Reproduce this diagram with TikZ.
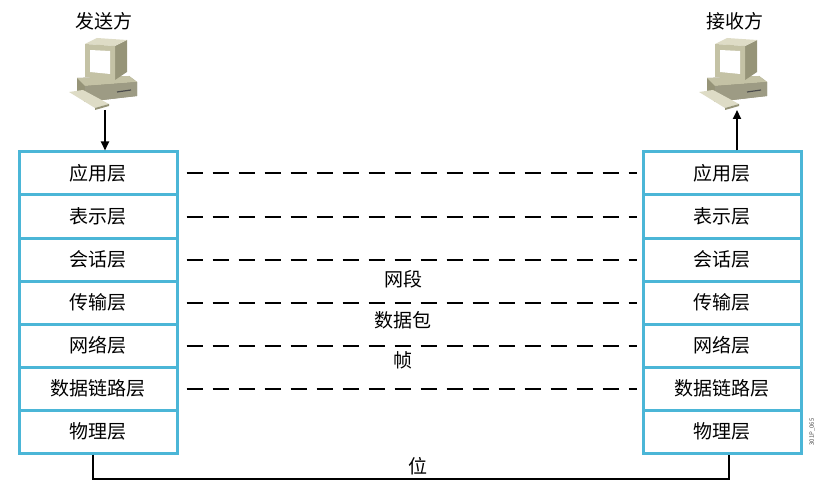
\documentclass[tikz,border=0pt]{standalone}
\usepackage{fontspec}
\setmainfont{Noto Sans CJK SC}
\usetikzlibrary{arrows.meta}
\begin{document}
\begin{tikzpicture}[x=1pt,y=-1pt,
  layer/.style={draw=bordc, line width=3pt, minimum width=158pt, minimum height=43pt, inner sep=0pt, font=\fontsize{19}{22}\selectfont, anchor=center},
  lbl/.style={font=\fontsize{19}{22}\selectfont, inner sep=1pt},
  dashline/.style={dash pattern=on 16pt off 10pt, line width=2pt},
  conn/.style={line width=2pt}]
\useasboundingbox (0,0) rectangle (824,497);
\definecolor{bordc}{RGB}{75,182,215}
\definecolor{pcA}{RGB}{196,194,165}
\definecolor{pcB}{RGB}{150,148,120}
\definecolor{pcC}{RGB}{222,220,198}
\newcommand{\pcicon}[1]{%
 \begin{scope}[shift={#1}]
  \fill[pcB] (-28,6) -- (24,4) -- (32,10) -- (32,24) -- (-20,30) -- (-28,22) -- cycle;
  \fill[pcA] (-28,6) -- (24,4) -- (32,10) -- (-20,14) -- cycle;
  \fill[pcA!80!black] (-20,14) -- (32,10) -- (32,24) -- (-20,30) -- cycle;
  \draw[black!70, line width=1.2pt] (12,20) -- (26,18);
  \fill[pcC] (-36,20) -- (-22,18) -- (4,32) -- (-10,36) -- cycle;
  \fill[pcB] (-10,36) -- (4,32) -- (4,34) -- (-10,38) -- cycle;
  \fill[pcB] (10,-26) -- (22,-32) -- (22,0) -- (10,8) -- cycle;
  \fill[pcC] (-20,-28) -- (-8,-34) -- (22,-32) -- (10,-26) -- cycle;
  \fill[pcA] (-20,-28) -- (10,-26) -- (10,8) -- (-20,5) -- cycle;
  \fill[white] (-15,-22) -- (5,-21) -- (5,2) -- (-15,0) -- cycle;
 \end{scope}}
\pcicon{(105,72)}
\pcicon{(735,72)}
\node[lbl] (snd) at (104,21) {发送方};
\node[lbl] (rcv) at (735,21) {接收方};
\coordinate (sndpc) at (105,110);
\coordinate (rcvpc) at (737,110);
\foreach \t [count=\i] in {应用层,表示层,会话层,传输层,网络层,数据链路层,物理层}{
  \node[layer] (L\i) at (98,{152+43*(\i-0.5)}) {\t};
  \node[layer] (R\i) at (722,{152+43*(\i-0.5)}) {\t};
}
\foreach \i in {1,...,6}{
  \draw[dashline] ([xshift=8pt]L\i.east) -- ([xshift=-5pt]R\i.west);
}
\node[lbl] (seg) at (403,279) {网段};
\node[lbl] (pkt) at (403,320) {数据包};
\node[lbl] (frm) at (403,360) {帧};
\node[lbl] (bit) at (418,466) {位};
\draw[conn, -{Triangle[length=9pt,width=8pt]}] (sndpc) -- (sndpc |- L1.north);
\draw[conn, -{Triangle[length=9pt,width=8pt]}] (rcvpc |- R1.north) -- (rcvpc);
\coordinate (bl) at (93,479);
\coordinate (br) at (729,479);
\draw[conn] (bl |- L7.south) -- (bl) -- (br) -- (br |- R7.south);
\node[font=\fontsize{6}{7}\selectfont, rotate=90, text=black!70] (code) at (812,432) {301P\_065};
\end{tikzpicture}
\end{document}
